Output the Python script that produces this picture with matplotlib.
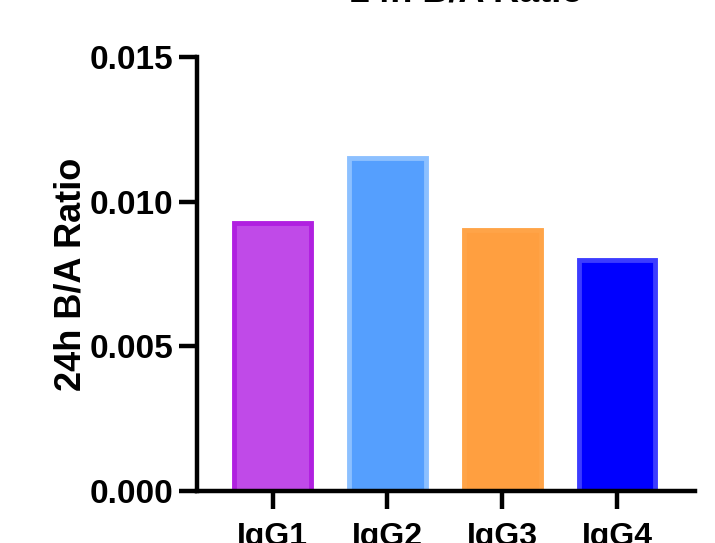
import matplotlib
matplotlib.use("Agg")
import matplotlib.pyplot as plt

categories = ["IgG1", "IgG2", "IgG3", "IgG4"]
values = [0.00926, 0.0115, 0.00902, 0.00798]
fill_colors = ["#c04ae8", "#559ffe", "#ff9f40", "#0000ff"]
edge_colors = ["#b020e0", "#8cc0ff", "#ffa448", "#3c3cff"]
yticks = [0.000, 0.005, 0.010, 0.015]
ytick_labels = ["0.000", "0.005", "0.010", "0.015"]

plt.rcParams['font.family'] = ['Liberation Sans', 'DejaVu Sans']

fig = plt.figure(figsize=(7.15, 5.43), dpi=100)
ax = fig.add_axes([197/715, 52/543, 498/715, 434/543])

x = list(range(len(categories)))
ax.bar(x, values, width=0.67, color=fill_colors, edgecolor=edge_colors, linewidth=3.5)

ax.set_xlim(-0.66, 3.68)
ax.set_ylim(0, 0.015)
ax.set_yticks(yticks)
ax.set_yticklabels(ytick_labels, fontsize=24, fontweight='bold')
ax.set_xticks(x)
ax.set_xticklabels(categories, fontsize=23, fontweight='bold')
ax.set_ylabel("24h B/A Ratio", fontsize=26, fontweight='bold', labelpad=1)

for s in ['top', 'right']:
    ax.spines[s].set_visible(False)
for s in ['left', 'bottom']:
    ax.spines[s].set_linewidth(3.2)
ax.tick_params(axis='y', length=13, width=3.2, pad=4)
ax.tick_params(axis='x', length=13, width=3.2, pad=9)

fig.text(467/715, 1 - 1/543, "24h B/A Ratio", fontsize=26, fontweight='bold',
         ha='center', va='baseline', color='black')

fig.savefig("out.png", dpi=100)
